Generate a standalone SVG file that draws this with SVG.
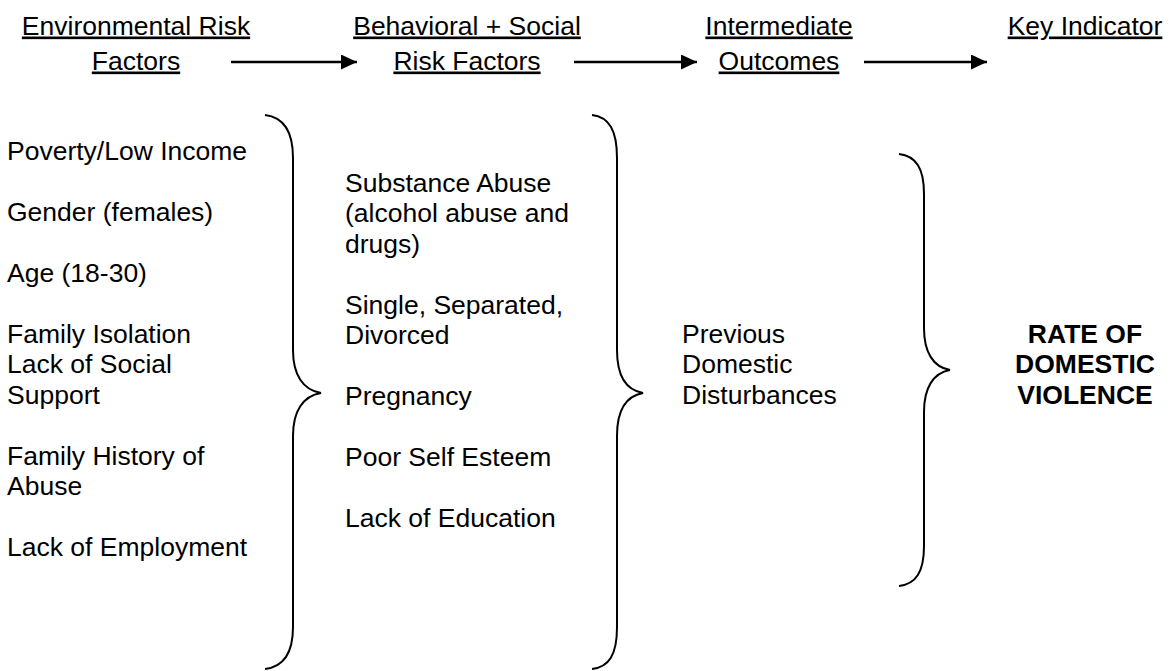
<svg xmlns="http://www.w3.org/2000/svg" width="1170" height="671" viewBox="0 0 1170 671">
<style>
text { font-family: "Liberation Sans", Arial, sans-serif; font-size: 26.5px; fill: #000; }
.h { text-decoration: underline; text-anchor: middle; }
.b { font-weight: bold; text-anchor: middle; }
.brace { fill: none; stroke: #000; stroke-width: 2; }
.arrow { stroke: #000; stroke-width: 2.5; fill: none; marker-end: url(#ah); }
</style>
<defs>
<marker id="ah" markerWidth="17" markerHeight="15" refX="16" refY="7.5" orient="auto" markerUnits="userSpaceOnUse"><path d="M0,0 L16,7.5 L0,15 Z" fill="#000"/></marker>
</defs>
<rect width="1170" height="671" fill="#fff"/>
<g id="header-environmental">
<text class="h" x="136" y="34.5">Environmental Risk</text>
<text class="h" x="136" y="69.5">Factors</text>
</g>
<g id="header-behavioral">
<text class="h" x="467" y="34.5">Behavioral + Social</text>
<text class="h" x="467" y="69.5">Risk Factors</text>
</g>
<g id="header-intermediate">
<text class="h" x="779" y="34.5">Intermediate</text>
<text class="h" x="779" y="69.5">Outcomes</text>
</g>
<g id="header-key">
<text class="h" x="1085" y="34.5">Key Indicator</text>
</g>
<g id="connectors">
<line class="arrow" x1="231" y1="62" x2="357" y2="62"/>
<line class="arrow" x1="574" y1="62" x2="697" y2="62"/>
<line class="arrow" x1="864" y1="62" x2="987" y2="62"/>
</g>
<g id="environmental-factors">
<text x="7" y="159.5">Poverty/Low Income</text>
<text x="7" y="220.5">Gender (females)</text>
<text x="7" y="281.5">Age (18-30)</text>
<text x="7" y="342.5">Family Isolation</text>
<text x="7" y="373">Lack of Social</text>
<text x="7" y="403.5">Support</text>
<text x="7" y="464.5">Family History of</text>
<text x="7" y="495">Abuse</text>
<text x="7" y="556">Lack of Employment</text>
<path class="brace" d="M265,115 C282,117 293,130 293,158 L293,350 C293,375 303,390 321,393 C303,396 293,411 293,436 L293,627 C293,655 282,667 265,669"/>
</g>
<g id="behavioral-factors">
<text x="345" y="191.5">Substance Abuse</text>
<text x="345" y="222">(alcohol abuse and</text>
<text x="345" y="252.5">drugs)</text>
<text x="345" y="313.5">Single, Separated,</text>
<text x="345" y="344">Divorced</text>
<text x="345" y="405">Pregnancy</text>
<text x="345" y="466">Poor Self Esteem</text>
<text x="345" y="527">Lack of Education</text>
<path class="brace" d="M592,115 C609,117 617,130 617,158 L617,350 C617,375 626,390 643,393 C626,396 617,411 617,436 L617,627 C617,655 609,667 592,669"/>
</g>
<g id="intermediate-outcomes">
<text x="682" y="342.5">Previous</text>
<text x="682" y="373">Domestic</text>
<text x="682" y="403.5">Disturbances</text>
<path class="brace" d="M899,154 C916,156 924,168 924,194 L924,328 C924,352 933,367 950,370 C933,373 924,388 924,412 L924,546 C924,572 916,584 899,586"/>
</g>
<g id="key-indicator">
<text class="b" x="1085" y="342.5">RATE OF</text>
<text class="b" x="1085" y="373">DOMESTIC</text>
<text class="b" x="1085" y="403.5">VIOLENCE</text>
</g>
</svg>
